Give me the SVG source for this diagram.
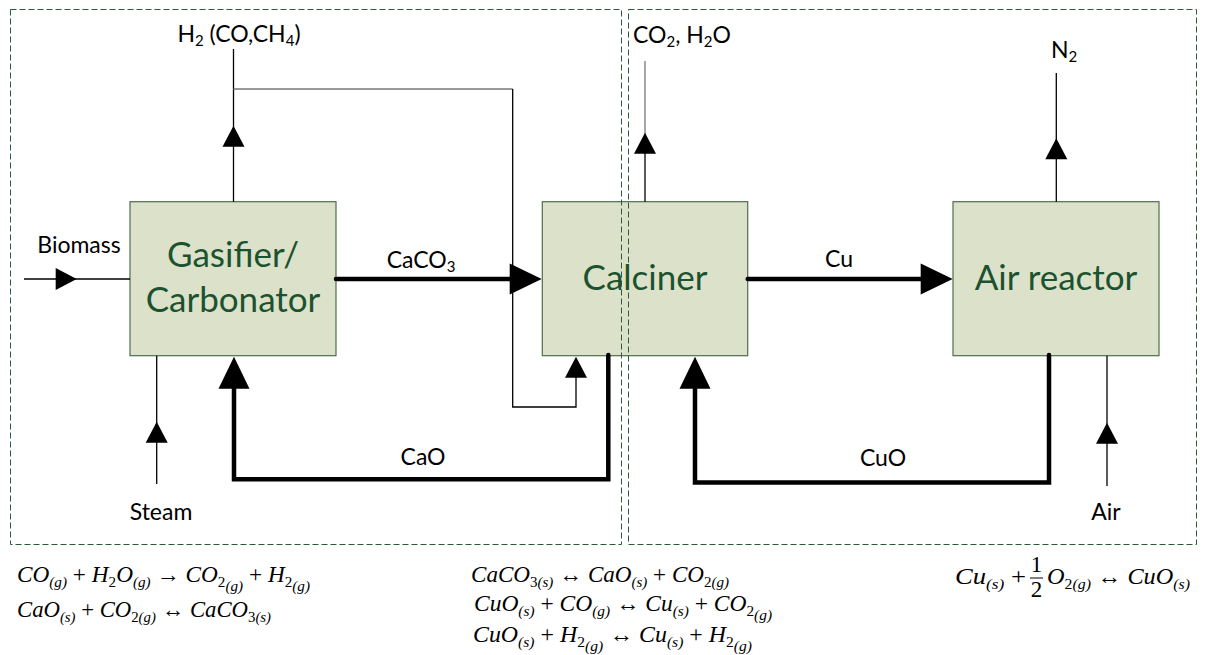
<svg xmlns="http://www.w3.org/2000/svg" xmlns:xlink="http://www.w3.org/1999/xlink" width="1206" height="655" viewBox="0 0 1206 655">
<style>
.box{fill:#dce2c9;stroke:#4d6e4d;stroke-width:1.2}
.bt{font-family:Lato,"Liberation Sans",sans-serif;font-size:35px;font-weight:400;fill:#1c5230;text-anchor:middle}
.lb{font-family:Lato,"Liberation Sans",sans-serif;font-size:23px;fill:#000}
.mid{text-anchor:middle}
.ls{font-size:15px}
.thin{fill:none;stroke:#000;stroke-width:1.3}
.gray{fill:none;stroke:#777;stroke-width:1.3}
.thick{fill:none;stroke:#000;stroke-width:4.5;stroke-linecap:round;stroke-linejoin:miter}
.dash{fill:none;stroke:#2d5b3a;stroke-width:1;stroke-dasharray:6 3}
.eq{font-family:"Liberation Serif","DejaVu Serif",serif;font-size:23px;font-style:italic;fill:#000}
.sb{font-size:15px}
.u{font-style:normal}
.ah{fill:#000}
</style>
<defs>
<path id="triS" d="M0,0 L11,21 L-11,21 Z"/>
<path id="triB" d="M0,0 L15.5,32 L-15.5,32 Z"/>
</defs>

<g id="gasifier">
<rect class="box" x="130" y="201.7" width="206" height="154"/>
<text class="bt" x="233" y="267">Gasifier/</text>
<text class="bt" x="233" y="312">Carbonator</text>
</g>
<g id="calciner">
<rect class="box" x="542.3" y="201.7" width="205.4" height="154"/>
<text class="bt" x="645" y="290">Calciner</text>
</g>
<g id="air-reactor">
<rect class="box" x="953" y="201.7" width="206" height="154"/>
<text class="bt" x="1056" y="290">Air reactor</text>
</g>

<g id="connectors">
<path class="thin" d="M233.5,49 V201.7"/>
<path class="gray" d="M233.5,89 H512.7"/>
<path class="thin" d="M512.7,89 V407 H576 V370"/>
<path class="gray" d="M645,61 V135"/>
<path class="thin" d="M645,135 V201.7"/>
<path class="thin" d="M1056.3,73 V201.7"/>
<path class="thin" d="M24,279 H60"/>
<path class="thin" d="M60,279 H130" stroke-width="1"/>
<path class="thin" d="M156.7,355.7 V484"/>
<path class="thin" d="M1107,355.7 V486"/>
<path class="thick" d="M336,279 H515"/>
<path class="thick" d="M747.7,279 H925"/>
<path class="thick" d="M608.3,355 V479.3 H234 V385"/>
<path class="thick" d="M1049,355 V482.5 H695 V385"/>
<use class="ah" xlink:href="#triS" transform="translate(233.5,125.7)"/>
<use class="ah" xlink:href="#triS" transform="translate(645,132.7)"/>
<use class="ah" xlink:href="#triS" transform="translate(1056.3,138.3)"/>
<use class="ah" xlink:href="#triS" transform="translate(76.7,279) rotate(90)"/>
<use class="ah" xlink:href="#triS" transform="translate(156.7,421.7)"/>
<use class="ah" xlink:href="#triS" transform="translate(1107,422.8)"/>
<use class="ah" xlink:href="#triS" transform="translate(576,356.7)"/>
<use class="ah" xlink:href="#triB" transform="translate(541.7,279) rotate(90)"/>
<use class="ah" xlink:href="#triB" transform="translate(952.7,279) rotate(90)"/>
<use class="ah" xlink:href="#triB" transform="translate(234,356.7)"/>
<use class="ah" xlink:href="#triB" transform="translate(695,356.7)"/>
</g>

<g id="labels">
<text class="lb mid" x="239" y="42">H<tspan class="ls" dy="4">2</tspan><tspan dy="-4"> (CO,CH</tspan><tspan class="ls" dy="4">4</tspan><tspan dy="-4">)</tspan></text>
<text class="lb" x="633" y="43">CO<tspan class="ls" dy="4">2</tspan><tspan dy="-4">, H</tspan><tspan class="ls" dy="4">2</tspan><tspan dy="-4">O</tspan></text>
<text class="lb" x="1051" y="58">N<tspan class="ls" dy="4">2</tspan></text>
<text class="lb mid" x="79" y="253">Biomass</text>
<text class="lb mid" x="421" y="268">CaCO<tspan class="ls" dy="4">3</tspan></text>
<text class="lb mid" x="839" y="267">Cu</text>
<text class="lb mid" x="423" y="465">CaO</text>
<text class="lb mid" x="883" y="466">CuO</text>
<text class="lb mid" x="161" y="520">Steam</text>
<text class="lb mid" x="1106" y="520">Air</text>
</g>

<g id="boundaries">
<rect class="dash" x="10.5" y="9.5" width="611" height="535"/>
<rect class="dash" x="628.5" y="9.5" width="568" height="535"/>
</g>

<g id="equations">
<text class="eq" x="17" y="582" textLength="293" lengthAdjust="spacingAndGlyphs">CO<tspan class="sb" dy="5">(g)</tspan><tspan class="u" dy="-5"> + </tspan>H<tspan class="sb u" dy="5">2</tspan><tspan dy="-5">O</tspan><tspan class="sb" dy="5">(g)</tspan><tspan class="u" dy="-5"> → </tspan>CO<tspan class="sb u" dy="5">2</tspan><tspan class="sb" dy="4">(g)</tspan><tspan class="u" dy="-9"> + </tspan>H<tspan class="sb u" dy="5">2</tspan><tspan class="sb" dy="4">(g)</tspan></text>
<text class="eq" x="17" y="617" textLength="254" lengthAdjust="spacingAndGlyphs">CaO<tspan class="sb" dy="5">(s)</tspan><tspan class="u" dy="-5"> + </tspan>CO<tspan class="sb u" dy="5">2</tspan><tspan class="sb">(g)</tspan><tspan class="u" dy="-5"> ↔ </tspan>CaCO<tspan class="sb u" dy="5">3</tspan><tspan class="sb">(s)</tspan></text>
<text class="eq" x="471" y="582" textLength="258" lengthAdjust="spacingAndGlyphs">CaCO<tspan class="sb u" dy="5">3</tspan><tspan class="sb">(s)</tspan><tspan class="u" dy="-5"> ↔ </tspan>CaO<tspan class="sb" dy="5">(s)</tspan><tspan class="u" dy="-5"> + </tspan>CO<tspan class="sb u" dy="5">2</tspan><tspan class="sb">(g)</tspan></text>
<text class="eq" x="474" y="611" textLength="298" lengthAdjust="spacingAndGlyphs">CuO<tspan class="sb" dy="5">(s)</tspan><tspan class="u" dy="-5"> + </tspan>CO<tspan class="sb" dy="5">(g)</tspan><tspan class="u" dy="-5"> ↔ </tspan>Cu<tspan class="sb" dy="5">(s)</tspan><tspan class="u" dy="-5"> + </tspan>CO<tspan class="sb u" dy="5">2</tspan><tspan class="sb" dy="4">(g)</tspan></text>
<text class="eq" x="473" y="642" textLength="279" lengthAdjust="spacingAndGlyphs">CuO<tspan class="sb" dy="5">(s)</tspan><tspan class="u" dy="-5"> + </tspan>H<tspan class="sb u" dy="5">2</tspan><tspan class="sb" dy="4">(g)</tspan><tspan class="u" dy="-9"> ↔ </tspan>Cu<tspan class="sb" dy="5">(s)</tspan><tspan class="u" dy="-5"> + </tspan>H<tspan class="sb u" dy="5">2</tspan><tspan class="sb" dy="4">(g)</tspan></text>
<text class="eq" x="955" y="584" textLength="71" lengthAdjust="spacingAndGlyphs">Cu<tspan class="sb" dy="5">(s)</tspan><tspan class="u" dy="-5"> +</tspan></text>
<text class="eq u" x="1036.5" y="572" font-size="19" text-anchor="middle">1</text>
<path d="M1030,578 H1043" stroke="#000" stroke-width="1"/>
<text class="eq u" x="1036.5" y="597" font-size="19" text-anchor="middle">2</text>
<text class="eq" x="1047" y="584" textLength="143" lengthAdjust="spacingAndGlyphs">O<tspan class="sb u" dy="5">2</tspan><tspan class="sb">(g)</tspan><tspan class="u" dy="-5"> ↔ </tspan>CuO<tspan class="sb" dy="5">(s)</tspan></text>
</g>
</svg>
